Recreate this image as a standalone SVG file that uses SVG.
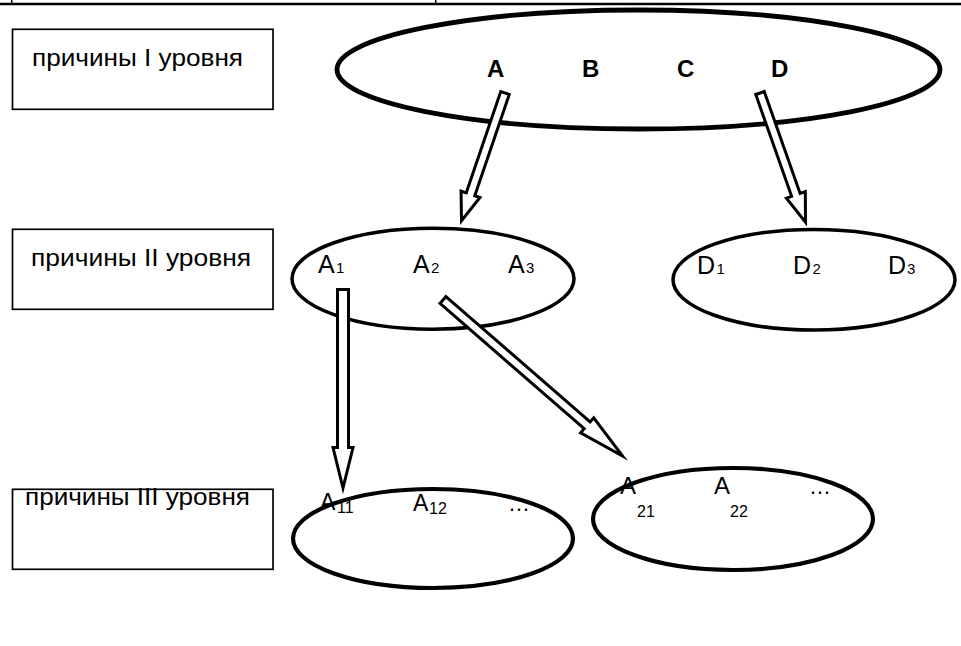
<svg xmlns="http://www.w3.org/2000/svg" width="961" height="646" viewBox="0 0 961 646">
<style>
  .bg{fill:#fff}
  .box{fill:#fff;stroke:#000;stroke-width:1.7}
  .ell{fill:none;stroke:#000;stroke-width:3.5}
  .ell3{fill:none;stroke:#000;stroke-width:4.2}
  .ell-top{fill:none;stroke:#000;stroke-width:4.8}
  .arr{fill:#fff;stroke:#000;stroke-width:3;stroke-linejoin:miter;stroke-miterlimit:10}
  .lbl{font-family:"Liberation Sans",Arial,sans-serif;font-size:23px;fill:#000}
  .t{font-family:"Liberation Sans",Arial,sans-serif;fill:#000}
  .big{font-size:24px;font-weight:bold}
  .a{font-size:25px}
  .sub{font-size:15px}
  .rule{stroke:#000;fill:none}
</style>
<rect class="bg" x="0" y="0" width="961" height="646"/>

<g id="page-rule">
  <line class="rule" x1="0" y1="4" x2="961" y2="4" stroke-width="2.7"/>
  <line class="rule" x1="11.7" y1="0" x2="11.7" y2="4" stroke-width="1.5"/>
  <line class="rule" x1="435.7" y1="0" x2="435.7" y2="4" stroke-width="1.5"/>
</g>

<g id="label-level1">
  <rect class="box" x="12.5" y="29.3" width="260.5" height="80"/>
  <text class="lbl" x="32" y="66" textLength="211" lengthAdjust="spacingAndGlyphs">причины I уровня</text>
</g>
<g id="label-level2">
  <rect class="box" x="12.5" y="229.3" width="260.5" height="80"/>
  <text class="lbl" x="31" y="266" textLength="220" lengthAdjust="spacingAndGlyphs">причины II уровня</text>
</g>
<g id="label-level3">
  <rect class="box" x="12.5" y="489.3" width="260.5" height="80"/>
  <text class="lbl" x="25" y="505" textLength="225" lengthAdjust="spacingAndGlyphs">причины III уровня</text>
</g>

<g id="node-level1">
  <ellipse class="ell-top" cx="638.5" cy="69.5" rx="301.5" ry="59.5"/>
  <text class="t big" x="487" y="77">A</text>
  <text class="t big" x="582" y="77">B</text>
  <text class="t big" x="677" y="77">C</text>
  <text class="t big" x="771" y="77">D</text>
</g>

<g id="node-A">
  <ellipse class="ell" cx="433" cy="278.7" rx="141" ry="50.5"/>
  <text class="t a" y="273"><tspan x="318">A</tspan><tspan class="sub" x="336">1</tspan></text>
  <text class="t a" y="273"><tspan x="413">A</tspan><tspan class="sub" x="431">2</tspan></text>
  <text class="t a" y="273"><tspan x="508">A</tspan><tspan class="sub" x="526">3</tspan></text>
</g>

<g id="node-D">
  <ellipse class="ell" cx="814" cy="279.7" rx="141" ry="50.3"/>
  <text class="t a" y="273.5"><tspan x="697">D</tspan><tspan class="sub" x="716.5">1</tspan></text>
  <text class="t a" y="273.5"><tspan x="793">D</tspan><tspan class="sub" x="812.5">2</tspan></text>
  <text class="t a" y="273.5"><tspan x="888">D</tspan><tspan class="sub" x="907">3</tspan></text>
</g>

<g id="node-A1">
  <ellipse class="ell3" cx="433" cy="538.5" rx="140" ry="49.5"/>
  <text class="t" style="font-size:23px" y="510"><tspan x="320">A</tspan><tspan style="font-size:16px" x="337" dy="3">11</tspan></text>
  <text class="t" style="font-size:23px" y="511"><tspan x="413">A</tspan><tspan style="font-size:16px" x="429" dy="2.5">12</tspan></text>
  <text class="t" style="font-size:22px" x="508" y="511">…</text>
</g>

<g id="node-A2">
  <ellipse class="ell3" cx="733" cy="519" rx="140" ry="51"/>
  <text class="t" style="font-size:24px" x="620" y="493.5">A</text>
  <text class="t" style="font-size:16px" x="637" y="516.5">21</text>
  <text class="t" style="font-size:24px" x="714" y="493.5">A</text>
  <text class="t" style="font-size:16px" x="730" y="516.5">22</text>
  <text class="t" style="font-size:22px" x="809" y="494">…</text>
</g>

<g id="connectors">
  <!-- A -> level 2 A -->
  <path class="arr" transform="translate(505,93) rotate(108.8)" d="M0,-4.5 L107,-4.5 L107,-10 L135,0 L107,10 L107,4.5 L0,4.5 Z"/>
  <!-- D -> level 2 D -->
  <path class="arr" transform="translate(760,93) rotate(70.6)" d="M0,-4.5 L108,-4.5 L108,-10 L137,0 L108,10 L108,4.5 L0,4.5 Z"/>
  <!-- A1 -> level 3 -->
  <path class="arr" transform="translate(343,289.5) rotate(90)" d="M0,-5.5 L158,-5.5 L158,-10 L198.5,0 L158,10 L158,5.5 L0,5.5 Z"/>
  <!-- A2 -> level 3 -->
  <path class="arr" transform="translate(443,300) rotate(41)" d="M0,-4.5 L191,-4.5 L191,-10 L238,0 L191,10 L191,4.5 L0,4.5 Z"/>
</g>
</svg>
